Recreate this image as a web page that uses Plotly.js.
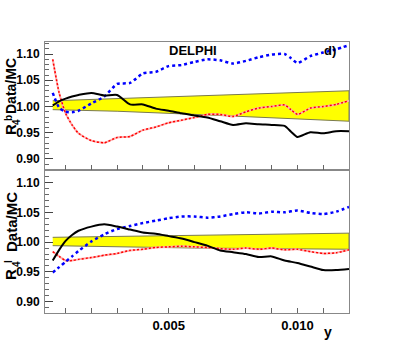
<!DOCTYPE html>
<html>
<head>
<meta charset="utf-8">
<script src="https://cdn.plot.ly/plotly-3.0.1.min.js"></script>
<style>
  html, body { margin: 0; padding: 0; background: #fff; }
  #plot { width: 411px; height: 342px; }
</style>
</head>
<body>
<div id="plot"></div>
<script>
// y (jet resolution) values, upper panel (R4 b)
var xTop = [0.0005, 0.00075, 0.001, 0.00125, 0.0015, 0.002, 0.0025, 0.003, 0.0035, 0.004,
  0.0045, 0.005, 0.0055, 0.006, 0.0065, 0.007, 0.0075, 0.008, 0.0085, 0.009,
  0.0095, 0.00975, 0.010, 0.0105, 0.011, 0.0115, 0.012];
var blackTop = [1.002, 1.010, 1.015, 1.019, 1.022, 1.026, 1.021, 1.022, 1.004, 1.004,
  0.996, 0.992, 0.987, 0.983, 0.979, 0.972, 0.965, 0.968, 0.966, 0.965,
  0.963, 0.952, 0.942, 0.951, 0.949, 0.953, 0.953];
var blueTop = [1.026, 0.998, 0.990, 0.989, 0.992, 1.006, 1.019, 1.043, 1.045, 1.063,
  1.066, 1.077, 1.079, 1.085, 1.090, 1.088, 1.082, 1.087, 1.094, 1.099,
  1.100, 1.092, 1.083, 1.096, 1.103, 1.109, 1.117];
var redTop = [1.090, 1.026, 0.987, 0.965, 0.949, 0.935, 0.931, 0.941, 0.943, 0.955,
  0.961, 0.969, 0.974, 0.979, 0.985, 0.985, 0.981, 0.990, 0.997, 1.000,
  1.003, 0.994, 0.985, 0.997, 1.000, 1.004, 1.011];

// lower panel (R4 l)
var xBot = [0.0005, 0.00075, 0.001, 0.00125, 0.0015, 0.002, 0.0025, 0.003, 0.0035, 0.004,
  0.0045, 0.005, 0.0055, 0.006, 0.0065, 0.007, 0.0075, 0.008, 0.0085, 0.009,
  0.0095, 0.010, 0.0105, 0.011, 0.0115, 0.012];
var blackBot = [0.969, 0.987, 1.002, 1.012, 1.019, 1.026, 1.030, 1.026, 1.021, 1.016,
  1.014, 1.010, 1.006, 1.000, 0.994, 0.986, 0.983, 0.980, 0.975, 0.976,
  0.969, 0.965, 0.959, 0.953, 0.953, 0.955];
var blueBot = [0.949, 0.958, 0.967, 0.976, 0.985, 1.001, 1.013, 1.022, 1.027, 1.032,
  1.036, 1.040, 1.043, 1.043, 1.041, 1.043, 1.047, 1.050, 1.048, 1.051,
  1.050, 1.053, 1.049, 1.047, 1.051, 1.059];
var redBot = [0.984, 0.976, 0.969, 0.969, 0.971, 0.974, 0.978, 0.981, 0.986, 0.988,
  0.991, 0.992, 0.993, 0.992, 0.991, 0.989, 0.988, 0.990, 0.988, 0.990,
  0.987, 0.988, 0.984, 0.981, 0.982, 0.987];

// systematic error bands
var bandX = [0.0005, 0.003, 0.006, 0.009, 0.012];
var bandTopHi = [1.011, 1.015, 1.019, 1.025, 1.030];
var bandTopLo = [0.994, 0.991, 0.985, 0.979, 0.972];
var bandBotHi = [1.008, 1.009, 1.011, 1.013, 1.015];
var bandBotLo = [0.994, 0.992, 0.990, 0.989, 0.988];

var xTickVals = [0.001, 0.002, 0.003, 0.004, 0.005, 0.006, 0.007, 0.008, 0.009, 0.010, 0.011];
var xTickText = ['', '', '', '', '0.005', '', '', '', '', '0.010', ''];

function band(lo, hi, xa, ya) {
  return {
    x: bandX.concat(bandX.slice().reverse()),
    y: lo.concat(hi.slice().reverse()),
    xaxis: xa, yaxis: ya,
    type: 'scatter', mode: 'lines', fill: 'toself',
    fillcolor: '#ffff00',
    line: {color: '#7a7a50', width: 1},
    hoverinfo: 'skip'
  };
}
function curve(xs, ys, xa, ya, color, width, dash) {
  return {
    x: xs, y: ys, xaxis: xa, yaxis: ya,
    type: 'scatter', mode: 'lines',
    line: {color: color, width: width, dash: dash, shape: 'spline', smoothing: 0.6}
  };
}

var data = [
  band(bandTopLo, bandTopHi, 'x2', 'y2'),
  curve(xTop, redTop, 'x2', 'y2', '#ffb0b0', 2, 'solid'),
  curve(xTop, redTop, 'x2', 'y2', '#ff0000', 1.5, '2px,2px'),
  curve(xTop, blueTop, 'x2', 'y2', '#0000ff', 2.5, '3px,3px'),
  curve(xTop, blackTop, 'x2', 'y2', '#000000', 2, 'solid'),
  band(bandBotLo, bandBotHi, 'x', 'y'),
  curve(xBot, redBot, 'x', 'y', '#ffb0b0', 2, 'solid'),
  curve(xBot, redBot, 'x', 'y', '#ff0000', 1.5, '2px,2px'),
  curve(xBot, blueBot, 'x', 'y', '#0000ff', 2.5, '3px,3px'),
  curve(xBot, blackBot, 'x', 'y', '#000000', 2, 'solid')
];

var frame = '#888888';
var fnt = 'Liberation Sans, Arial, sans-serif';

function xAxis(anchor, labels) {
  return {
    anchor: anchor, domain: [0, 1], range: [0.0002, 0.012],
    showline: true, mirror: true, linecolor: frame, linewidth: 1,
    ticks: 'inside', ticklen: 5, tickcolor: '#666',
    tickvals: xTickVals, ticktext: xTickText,
    showticklabels: labels,
    tickfont: {family: fnt, size: 13, weight: 'bold', color: '#000'},
    showgrid: false, zeroline: false
  };
}
function yAxis(anchor, domain, range) {
  return {
    anchor: anchor, domain: domain, range: range,
    showline: true, mirror: true, linecolor: frame, linewidth: 1,
    ticks: 'inside', ticklen: 8, tickcolor: '#444',
    tick0: 0.9, dtick: 0.05, tickformat: '.2f',
    minor: {ticks: 'inside', dtick: 0.01, ticklen: 4, tickcolor: '#666'},
    tickfont: {family: fnt, size: 12, weight: 'bold', color: '#000'},
    ticklabelstandoff: 2,
    showgrid: false, zeroline: false
  };
}

function px(x) { return (x - 45) / 304; }
function py(y) { return (313 - y) / 271; }
function note(text, x, y, size, angle) {
  return {
    text: text, xref: 'paper', yref: 'paper', x: px(x), y: py(y),
    xanchor: 'center', yanchor: 'middle', showarrow: false,
    textangle: angle || 0,
    font: {family: fnt, size: size, weight: 'bold', color: '#000'}
  };
}

var layout = {
  width: 411, height: 342,
  margin: {l: 45, r: 62, t: 42, b: 29},
  paper_bgcolor: '#fff', plot_bgcolor: '#fff',
  showlegend: false,
  xaxis: xAxis('y', true),
  xaxis2: xAxis('y2', false),
  yaxis: yAxis('x', [0, 0.5277], [0.881, 1.121]),
  yaxis2: yAxis('x2', [0.5277, 1], [0.879, 1.123]),
  annotations: [
    note('DELPHI', 193, 50, 13),
    note('d)', 330, 50, 13),
    note('y', 328, 332, 14),
    note('Data/MC', 11, 86, 14, -90),
    note('R', 10, 130, 15, -90),
    note('b', 8, 118, 10, -90),
    note('4', 16, 122, 10, -90),
    note('Data/MC', 11, 222, 15, -90),
    note('R', 10, 275, 15, -90),
    note('l', 8, 262, 10, -90),
    note('4', 16, 264, 10, -90)
  ]
};

Plotly.newPlot('plot', data, layout, {staticPlot: true, displayModeBar: false});
</script>
</body>
</html>
